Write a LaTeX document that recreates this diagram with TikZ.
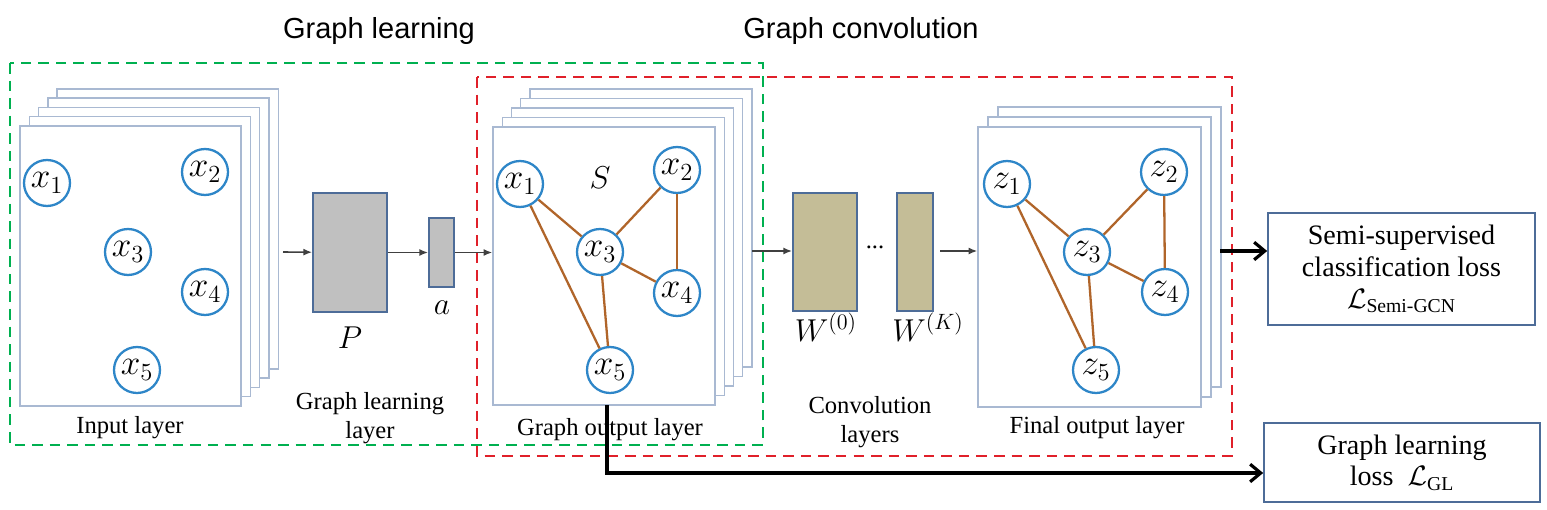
\documentclass[tikz,border=0pt]{standalone}
\usepackage{fix-cm}
\usepackage[no-math]{fontspec}
\setmainfont{Liberation Serif}
\setsansfont{Liberation Sans}
\usepackage{amsmath}
\usetikzlibrary{arrows.meta}
\definecolor{nodeblue}{HTML}{2E86C8}
\definecolor{edgebrown}{HTML}{B0652A}
\definecolor{sheetblue}{HTML}{A9B9D2}
\definecolor{boxblue}{HTML}{4D6C98}
\definecolor{pgray}{HTML}{C0C0C0}
\definecolor{wkhaki}{HTML}{C4BD97}
\definecolor{glgreen}{HTML}{00B050}
\definecolor{gcred}{HTML}{E0202A}
\tikzset{
  vert/.style={circle, draw=nodeblue, line width=1.3pt, fill=white, minimum size=0.92cm, inner sep=0pt, font=\fontsize{20}{20}\selectfont},
  edge/.style={draw=edgebrown, line width=1.3pt},
  sheet/.style={draw=sheetblue, fill=white, line width=0.8pt},
  layerbox/.style={draw=boxblue, line width=1pt},
  lossbox/.style={draw=boxblue, line width=1pt, align=center, font=\fontsize{16}{18}\selectfont},
  lbl/.style={align=center, font=\fontsize{14}{16.5}\selectfont},
  mlbl/.style={font=\fontsize{18}{18}\selectfont},
  title/.style={font=\sffamily\fontsize{16.5}{18}\selectfont},
  thin/.style={-{Latex[length=5pt,width=4pt]}, draw=black!75, line width=0.9pt},
  thick/.style={-{Straight Barb[length=6pt,width=10pt]}, line width=1.8pt},
  region/.style={dashed, dash pattern=on 6pt off 4pt, line width=1.1pt}
}
\begin{document}
\begin{tikzpicture}[x=0.02cm, y=-0.02cm]
\useasboundingbox (0,0) rectangle (1547,510);

% titles
\node at (379,31)[title] {Graph learning};
\node at (861,31)[title] {Graph convolution};

% input layer
\foreach \i in {4,3,2,1}
  \draw[sheet] ({20+9.3*\i},{126-9.3*\i}) rectangle +(221,280);
\node (inl) at (130.5,266)[sheet, minimum width=4.42cm, minimum height=5.6cm] {};
\node (in1) at (47,183)[vert] {$x_1$};
\node (in2) at (205,172)[vert] {$x_2$};
\node (in3) at (128,252)[vert] {$x_3$};
\node (in4) at (205,292)[vert] {$x_4$};
\node (in5) at (137,370)[vert] {$x_5$};
\node at (130,428)[lbl] {Input layer};

% graph learning layer
\node (pbox) at (350,252.5)[layerbox, fill=pgray, minimum width=1.48cm, minimum height=2.38cm] {};
\node (abox) at (441.5,252.5)[layerbox, fill=pgray, minimum width=0.5cm, minimum height=1.38cm] {};
\node at (350,338)[mlbl] {$P$};
\node at (442,308)[mlbl] {$a$};
\node at (370,418)[lbl] {Graph learning\\layer};

% graph output layer
\foreach \i in {4,3,2,1}
  \draw[sheet] ({493+9.2*\i},{127-9.5*\i}) rectangle +(222,278);
\node (gol) at (604,266)[sheet, minimum width=4.44cm, minimum height=5.56cm] {};
\node (g1) at (520,184)[vert] {$x_1$};
\node (g2) at (677,170)[vert] {$x_2$};
\node (g3) at (600,252)[vert] {$x_3$};
\node (g4) at (677,293)[vert] {$x_4$};
\node (g5) at (610,370)[vert] {$x_5$};
\node at (600,178)[mlbl] {$S$};
\draw[edge] (g1) -- (g3);
\draw[edge] (g2) -- (g3);
\draw[edge] (g2) -- (g4);
\draw[edge] (g3) -- (g4);
\draw[edge] (g3) -- (g5);
\draw[edge] (g1) -- (g5);
\node at (610,430)[lbl] {Graph output layer};

% convolution layers
\node (w0) at (825,252)[layerbox, fill=wkhaki, minimum width=1.28cm, minimum height=2.36cm] {};
\node (wk) at (915,252)[layerbox, fill=wkhaki, minimum width=0.72cm, minimum height=2.36cm] {};
\node at (875,247)[lbl] {...};
\node at (826,327)[mlbl] {$W^{(0)}$};
\node at (928,327)[mlbl] {$W^{(K)}$};
\node at (870,422)[lbl] {Convolution\\layers};

% final output layer
\foreach \i in {2,1}
  \draw[sheet] ({978+10*\i},{127-10*\i}) rectangle +(223,280);
\node (fol) at (1089.5,267)[sheet, minimum width=4.46cm, minimum height=5.6cm] {};
\node (z1) at (1007,184)[vert] {$z_1$};
\node (z2) at (1164,172)[vert] {$z_2$};
\node (z3) at (1087,252)[vert] {$z_3$};
\node (z4) at (1165,292)[vert] {$z_4$};
\node (z5) at (1096,370)[vert] {$z_5$};
\draw[edge] (z1) -- (z3);
\draw[edge] (z2) -- (z3);
\draw[edge] (z2) -- (z4);
\draw[edge] (z3) -- (z4);
\draw[edge] (z3) -- (z5);
\draw[edge] (z1) -- (z5);
\node at (1097,428)[lbl] {Final output layer};

% losses
\node (semi) at (1401.5,269)[lossbox, minimum width=5.34cm, minimum height=2.24cm] {Semi-supervised\\classification loss\\$\mathcal{L}_{\text{Semi-GCN}}$};
\node (gl) at (1402,462.5)[lossbox, minimum width=5.52cm, minimum height=1.58cm] {Graph learning\\loss~ $\mathcal{L}_{\text{GL}}$};

% regions
\draw[region, glgreen] (10,63) rectangle (763,445);
\draw[region, gcred] (477,77) rectangle (1232,456);

% arrows
\coordinate (inout) at (283,252);
\coordinate (goout) at (752,251);
\coordinate (wkout) at (940,251);
\coordinate (foout) at (1220,251);
\coordinate (gobot) at (607,405);
\coordinate (glbend) at (607,473);
\draw[thin] (inout) -- (pbox);
\draw[thin] (pbox) -- (abox);
\draw[thin] (abox) -- (abox -| gol.west);
\draw[thin] (goout) -- (goout -| w0.west);
\draw[thin] (wkout) -- (wkout -| fol.west);
\draw[thick] (foout) -- (foout -| semi.west);
\draw[thick] (gobot) -- (glbend) -- (glbend -| gl.west);
\end{tikzpicture}
\end{document}
